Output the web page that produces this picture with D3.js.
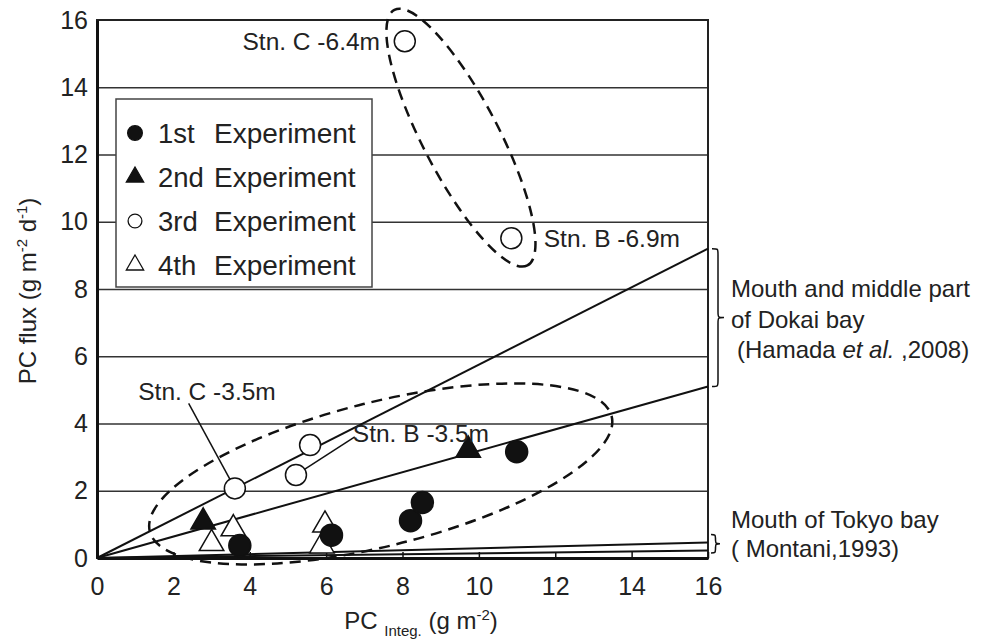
<!DOCTYPE html>
<html>
<head>
<meta charset="utf-8">
<script src="https://cdn.jsdelivr.net/npm/d3@7"></script>
<style>
  body { margin: 0; background: #fff; }
  svg { display: block; font-family: 'Liberation Sans', Arial, sans-serif; }
  .tick text { fill: #222; }
</style>
</head>
<body>
<svg id="chart" width="983" height="642"></svg>
<script>
// values: [PC integ., PC flux]
const exp1 = [[3.74, 0.37], [6.14, 0.68], [8.21, 1.11], [8.52, 1.65], [10.99, 3.16]];
const exp2 = [[2.78, 1.07], [9.72, 3.21]];
const exp3 = [[3.61, 2.07], [5.21, 2.47], [5.58, 3.36], [8.06, 15.37], [10.85, 9.51]];
const exp4 = [[3.57, 0.87], [3.0, 0.43], [5.97, 0.98], [5.89, 0.36]];

const xTicks = [0, 2, 4, 6, 8, 10, 12, 14, 16];
const yTicks = [0, 2, 4, 6, 8, 10, 12, 14, 16];

// reference lines through the origin, flux at PC = 16
const dokaiEnds = [9.2, 5.1];
const tokyoEnds = [0.46, 0.22];

const legendLabels = ['1st', '2nd', '3rd', '4th'];

const svg = d3.select('#chart');
const margin = { left: 97, right: 275, top: 20, bottom: 84 };
const W = 983, H = 642;

const x = d3.scaleLinear().domain([0, 16]).range([margin.left, W - margin.right]);
const y = d3.scaleLinear().domain([0, 16]).range([H - margin.bottom, margin.top]);

svg.append('rect').attr('width', W).attr('height', H).attr('fill', '#fff');

// grid
svg.append('g')
  .attr('transform', 'translate(' + x(0) + ',0)')
  .call(d3.axisLeft(y).tickValues(yTicks.slice(1, -1)).tickSize(-(x(16) - x(0))).tickFormat(''))
  .call(g => g.select('.domain').remove())
  .call(g => g.selectAll('line').attr('stroke', '#333').attr('stroke-width', 1.6));

// frame
svg.append('rect')
  .attr('x', x(0)).attr('y', y(16))
  .attr('width', x(16) - x(0)).attr('height', y(0) - y(16))
  .attr('fill', 'none').attr('stroke', '#222').attr('stroke-width', 2);

// legend box
const lg = svg.append('g');
lg.append('rect')
  .attr('x', 116).attr('y', 99).attr('width', 256).attr('height', 188)
  .attr('fill', '#fff').attr('stroke', '#444').attr('stroke-width', 1.5);
const row = d3.scalePoint().domain(legendLabels).range([133, 265]);
const legendSym = [
  { type: d3.symbolCircle, size: 170, fill: '#111' },
  { type: d3.symbolTriangle, size: 130, fill: '#111' },
  { type: d3.symbolCircle, size: 150, fill: '#fff' },
  { type: d3.symbolTriangle, size: 130, fill: '#fff' }
];
legendLabels.forEach((l, i) => {
  const s = legendSym[i];
  lg.append('path')
    .attr('d', d3.symbol(s.type, s.size)())
    .attr('transform', 'translate(135,' + row(l) + ')')
    .attr('fill', s.fill).attr('stroke', '#111').attr('stroke-width', 1.3);
  lg.append('text').attr('x', 158).attr('y', row(l) + 10)
    .attr('font-size', 27.5).attr('fill', '#222').text(l);
  lg.append('text').attr('x', 214).attr('y', row(l) + 10)
    .attr('font-size', 28).attr('fill', '#222').text('Experiment');
});

// reference lines
const refLines = svg.append('g').attr('stroke', '#111').attr('fill', 'none');
dokaiEnds.concat(tokyoEnds).forEach(v => {
  refLines.append('line')
    .attr('x1', x(0)).attr('y1', y(0)).attr('x2', x(16)).attr('y2', y(v))
    .attr('stroke-width', 2);
});

// pointer lines for the -3.5 m stations
const pointers = [
  { from: [2.4, 4.6], to: [3.61, 2.07] },
  { from: [6.75, 3.6], to: [5.21, 2.47] }
];
pointers.forEach(p => {
  svg.append('line')
    .attr('x1', x(p.from[0])).attr('y1', y(p.from[1]))
    .attr('x2', x(p.to[0])).attr('y2', y(p.to[1]))
    .attr('stroke', '#111').attr('stroke-width', 1.5);
});

// dashed ellipses (centre in data units, radii in px)
const ellipses = [
  { c: [7.43, 2.5], rx: 238, ry: 72, angle: -14 },
  { c: [9.53, 12.5], rx: 144, ry: 38, angle: 62.5 }
];
ellipses.forEach(e => {
  const cx = x(e.c[0]), cy = y(e.c[1]);
  svg.append('ellipse')
    .attr('cx', cx).attr('cy', cy).attr('rx', e.rx).attr('ry', e.ry)
    .attr('transform', 'rotate(' + e.angle + ',' + cx + ',' + cy + ')')
    .attr('fill', 'none').attr('stroke', '#111').attr('stroke-width', 2.5)
    .attr('stroke-dasharray', '11,7');
});

// axes
const yAxis = svg.append('g')
  .attr('transform', 'translate(' + x(0) + ',0)')
  .call(d3.axisLeft(y).tickValues(yTicks).tickSize(0).tickPadding(9))
  .call(g => g.select('.domain').attr('stroke', '#111').attr('stroke-width', 3));
yAxis.selectAll('text').attr('font-size', 25).attr('font-family', 'Liberation Sans, Arial');

const xAxis = svg.append('g')
  .attr('transform', 'translate(0,' + y(0) + ')')
  .call(d3.axisBottom(x).tickValues(xTicks).tickSizeInner(-6).tickSizeOuter(0).tickPadding(19))
  .call(g => g.select('.domain').attr('stroke', '#111').attr('stroke-width', 3));
xAxis.selectAll('line').attr('stroke', '#111').attr('stroke-width', 1.5);
xAxis.selectAll('text').attr('font-size', 25).attr('font-family', 'Liberation Sans, Arial');

// markers
function drawPoints(data, type, size, fill) {
  svg.append('g').selectAll('path')
    .data(data).join('path')
    .attr('d', d3.symbol(type, size)())
    .attr('transform', d => 'translate(' + x(d[0]) + ',' + y(d[1]) + ')')
    .attr('fill', fill).attr('stroke', '#111').attr('stroke-width', 1.5);
}
drawPoints(exp4, d3.symbolTriangle, 260, '#fff');
drawPoints(exp2, d3.symbolTriangle, 260, '#111');
drawPoints(exp1, d3.symbolCircle, 380, '#111');
drawPoints(exp3, d3.symbolCircle, 346, '#fff');

// station labels
const stnLabels = [
  { t: 'Stn. C -6.4m', at: [3.81, 15.12] },
  { t: 'Stn. B -6.9m', at: [11.7, 9.25] },
  { t: 'Stn. C -3.5m', at: [1.08, 4.71] },
  { t: 'Stn. B -3.5m', at: [6.7, 3.45] }
];
stnLabels.forEach(s => {
  svg.append('text').attr('x', x(s.at[0])).attr('y', y(s.at[1]))
    .attr('font-size', 24.5).attr('fill', '#222').text(s.t);
});

// braces on the right
function brace(x0, y1, y2, w) {
  const m = (y1 + y2) / 2, h = x0 + w * 0.5, r = 6;
  return 'M' + x0 + ',' + y1 +
    'C' + h + ',' + y1 + ' ' + h + ',' + y1 + ' ' + h + ',' + (y1 + r) +
    'L' + h + ',' + (m - r) +
    'C' + h + ',' + m + ' ' + h + ',' + m + ' ' + (x0 + w) + ',' + m +
    'C' + h + ',' + m + ' ' + h + ',' + m + ' ' + h + ',' + (m + r) +
    'L' + h + ',' + (y2 - r) +
    'C' + h + ',' + y2 + ' ' + h + ',' + y2 + ' ' + x0 + ',' + y2;
}
svg.append('path').attr('d', brace(x(16) + 4, y(dokaiEnds[0]), y(dokaiEnds[1]), 12))
  .attr('fill', 'none').attr('stroke', '#111').attr('stroke-width', 1.5);
svg.append('path').attr('d', brace(x(16) + 3, y(tokyoEnds[0]) - 8, y(0) - 5, 9))
  .attr('fill', 'none').attr('stroke', '#111').attr('stroke-width', 1.5);

const notes = svg.append('g').attr('font-size', 24).attr('fill', '#222');
notes.append('text').attr('x', 731).attr('y', 297).text('Mouth and middle part');
notes.append('text').attr('x', 731).attr('y', 328).text('of Dokai bay');
const ham = notes.append('text').attr('x', 737).attr('y', 358);
ham.append('tspan').text('(Hamada ');
ham.append('tspan').attr('font-style', 'italic').text('et al.');
ham.append('tspan').text(' ,2008)');
notes.append('text').attr('x', 731).attr('y', 528).text('Mouth of Tokyo bay');
notes.append('text').attr('x', 731).attr('y', 557).text('( Montani,1993)');

// axis titles
const yt = svg.append('text')
  .attr('transform', 'translate(36,' + ((y(0) + y(16)) / 2 + 2) + ') rotate(-90)')
  .attr('text-anchor', 'middle').attr('font-size', 24).attr('fill', '#222');
yt.append('tspan').text('PC flux (g m');
yt.append('tspan').attr('font-size', 15).attr('dy', -9).text('-2');
yt.append('tspan').attr('dy', 9).text(' d');
yt.append('tspan').attr('font-size', 15).attr('dy', -9).text('-1');
yt.append('tspan').attr('dy', 9).text(')');

const xt = svg.append('text')
  .attr('x', 421).attr('y', 629)
  .attr('text-anchor', 'middle').attr('font-size', 24).attr('fill', '#222');
xt.append('tspan').text('PC ');
xt.append('tspan').attr('font-size', 15).attr('dy', 7).text('Integ.');
xt.append('tspan').attr('dy', -7).text(' (g m');
xt.append('tspan').attr('font-size', 15).attr('dy', -9).text('-2');
xt.append('tspan').attr('dy', 9).text(')');
</script>
</body>
</html>
